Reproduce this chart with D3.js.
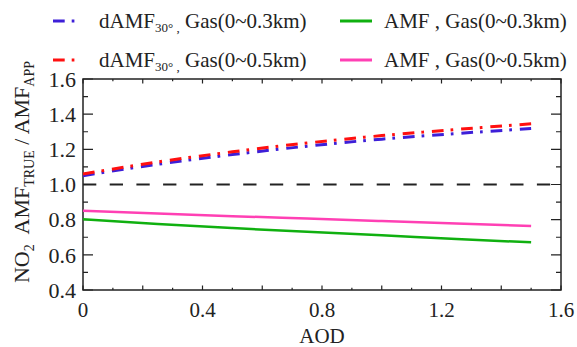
<!DOCTYPE html>
<html>
<head>
<meta charset="utf-8">
<script src="https://cdn.jsdelivr.net/npm/d3@7"></script>
<style>
  body { margin: 0; background: #fff; }
  text { font-family: "Liberation Serif", Tinos, "Times New Roman", Times, "Nimbus Roman", "DejaVu Serif", serif; fill: #222; }
</style>
</head>
<body>
<div id="chart"></div>
<script>
// values
const aod = [0, 0.25, 0.5, 0.75, 1.0, 1.25, 1.5]
const dAmf03 = [1.05, 1.115, 1.17, 1.218, 1.258, 1.29, 1.318]
const dAmf05 = [1.06, 1.128, 1.186, 1.236, 1.278, 1.313, 1.345]
const amf03 = [0.802, 0.775, 0.752, 0.731, 0.711, 0.690, 0.671]
const amf05 = [0.851, 0.835, 0.820, 0.806, 0.792, 0.778, 0.764]
const xTicks = [0, 0.4, 0.8, 1.2, 1.6]
const yTicks = [0.4, 0.6, 0.8, 1.0, 1.2, 1.4, 1.6]

const series = [
  { name: 'dAMF', gas: 'Gas(0~0.3km)', values: dAmf03, color: '#3d1fd8', dash: '11.7,7,2.7,7.9' },
  { name: 'dAMF', gas: 'Gas(0~0.5km)', values: dAmf05, color: '#ff1010', dash: '11.7,7,2.7,7.9' },
  { name: 'AMF', gas: 'Gas(0~0.3km)', values: amf03, color: '#10b010', dash: null },
  { name: 'AMF', gas: 'Gas(0~0.5km)', values: amf05, color: '#ff40b4', dash: null }
]

const width = 577, height = 347
const margin = { top: 79, left: 83, right: 16, bottom: 57 }
const w = width - margin.left - margin.right
const h = height - margin.top - margin.bottom

var svg = d3.select('#chart')
  .append('svg')
  .attr('width', width)
  .attr('height', height)

var g = svg.append('g')
  .attr('transform', 'translate(' + margin.left + ',' + margin.top + ')')

var x = d3.scaleLinear().domain([0, 1.6]).range([0, w])
var y = d3.scaleLinear().domain([0.4, 1.6]).range([h, 0])

// minor + major ticks, IDL style (inside, on all four sides)
var xMinor = d3.range(0, 1.6001, 0.1)
var yMinor = d3.range(0.4, 1.6001, 0.1)
function isMajor(v) { return Math.abs(Math.round(v * 5) - v * 5) < 1e-6 }

var axisColor = '#222'

g.selectAll('.xtick')
  .data(xMinor)
  .enter().append('path')
  .attr('class', 'xtick')
  .attr('d', function(d) {
    var len = isMajor(d) ? 4.5 : 2.3
    return 'M' + x(d) + ',' + h + 'v' + (-len) + 'M' + x(d) + ',0v' + len
  })
  .attr('stroke', axisColor)
  .attr('stroke-width', 1.2)

g.selectAll('.ytick')
  .data(yMinor)
  .enter().append('path')
  .attr('class', 'ytick')
  .attr('d', function(d) {
    var len = isMajor(d) ? 10 : 5
    return 'M0,' + y(d) + 'h' + len + 'M' + w + ',' + y(d) + 'h' + (-len)
  })
  .attr('stroke', axisColor)
  .attr('stroke-width', 1.2)

g.append('rect')
  .attr('width', w)
  .attr('height', h)
  .attr('fill', 'none')
  .attr('stroke', axisColor)
  .attr('stroke-width', 1.5)

// tick labels
g.selectAll('.xlabel')
  .data(xTicks)
  .enter().append('text')
  .attr('class', 'xlabel')
  .attr('x', d => x(d))
  .attr('y', h + 27)
  .attr('text-anchor', 'middle')
  .attr('font-size', 21)
  .text(d => d === 0 ? '0' : d3.format('.1f')(d))

g.selectAll('.ylabel')
  .data(yTicks)
  .enter().append('text')
  .attr('class', 'ylabel')
  .attr('x', -7)
  .attr('y', d => y(d))
  .attr('dy', '0.35em')
  .attr('text-anchor', 'end')
  .attr('font-size', 22)
  .text(d => d3.format('.1f')(d))

// reference line at 1.0
g.append('line')
  .attr('x1', 0)
  .attr('x2', w)
  .attr('y1', y(1))
  .attr('y2', y(1))
  .attr('stroke', '#222')
  .attr('stroke-width', 2)
  .attr('stroke-dasharray', '13.3,13.4')

var line = d3.line()
  .x((d, i) => x(aod[i]))
  .y(d => y(d))
  .curve(d3.curveMonotoneX)

g.selectAll('.series')
  .data(series)
  .enter().append('path')
  .attr('class', 'series')
  .attr('d', d => line(d.values))
  .attr('fill', 'none')
  .attr('stroke', d => d.color)
  .attr('stroke-width', d => d.dash ? 3 : 2.5)
  .attr('stroke-dasharray', d => d.dash)

// axis titles
svg.append('text')
  .attr('x', margin.left + w / 2)
  .attr('y', 343)
  .attr('text-anchor', 'middle')
  .attr('font-size', 21)
  .text('AOD')

var yt = svg.append('text')
  .attr('transform', 'translate(29,172) rotate(-90)')
  .attr('text-anchor', 'middle')
  .attr('font-size', 22)
yt.append('tspan').text('NO')
yt.append('tspan').attr('font-size', 14).attr('dy', 5).text('2')
yt.append('tspan').attr('dy', -5).text('\u00a0 AMF')
yt.append('tspan').attr('font-size', 14).attr('dy', 5).text('TRUE')
yt.append('tspan').attr('dy', -5).text(' / AMF')
yt.append('tspan').attr('font-size', 14).attr('dy', 5).text('APP')

// legend
var legPos = [
  { lx: 53, tx: 99, ty: 28 },
  { lx: 53, tx: 99, ty: 67 },
  { lx: 340, tx: 384, ty: 28 },
  { lx: 340, tx: 384, ty: 67 }
]

var leg = svg.selectAll('.legend')
  .data(series)
  .enter().append('g')
  .attr('class', 'legend')
  .attr('transform', (d, i) => 'translate(0,' + legPos[i].ty + ')')

leg.append('line')
  .attr('x1', (d, i) => legPos[i].lx)
  .attr('x2', (d, i) => legPos[i].lx + (d.dash ? 23 : 32))
  .attr('y1', -7)
  .attr('y2', -7)
  .attr('stroke', d => d.color)
  .attr('stroke-width', 3)
  .attr('stroke-dasharray', d => d.dash)

leg.each(function(d, i) {
  var t = d3.select(this).append('text')
    .attr('x', legPos[i].tx)
    .attr('font-size', 21)
  if (d.dash) {
    t.append('tspan').text(d.name)
    t.append('tspan').attr('font-size', 13).attr('dy', 4).text('30\u00b0 ,')
    t.append('tspan').attr('dy', -4).text(' ' + d.gas)
  } else {
    t.text(d.name + ' , ' + d.gas)
  }
})
</script>
</body>
</html>
